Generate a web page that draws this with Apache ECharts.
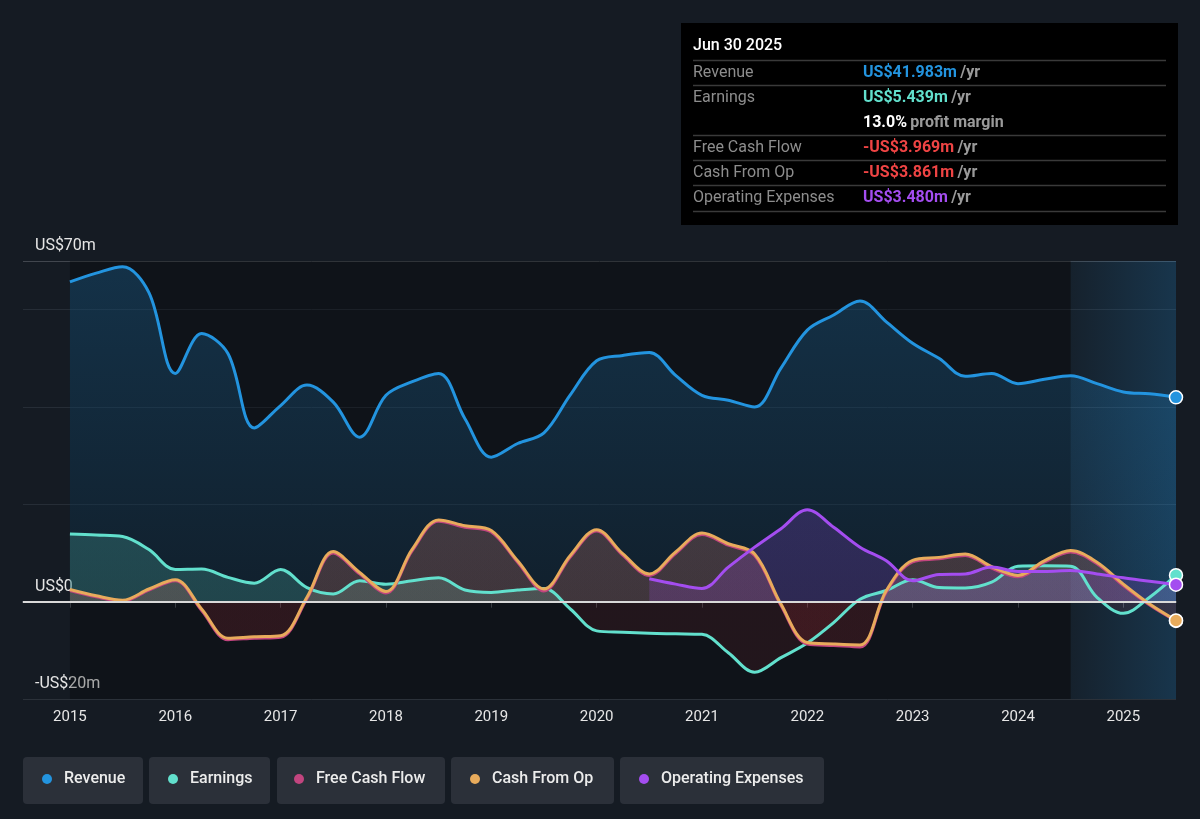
<!DOCTYPE html>
<html>
<head>
<meta charset="utf-8">
<title>Revenue, earnings and cash flow</title>
<script src="https://cdn.jsdelivr.net/npm/echarts@6/dist/echarts.min.js"></script>
<style>
  html, body { margin: 0; padding: 0; background: #151b23; }
  #main { width: 1200px; height: 819px; }
</style>
</head>
<body>
<div id="main"></div>
<script>
// quarter ends as decimal years
var periods = [
  2015, 2015.25, 2015.5, 2015.75, 2016, 2016.25, 2016.5, 2016.75,
  2017, 2017.25, 2017.5, 2017.75, 2018, 2018.25, 2018.5, 2018.75,
  2019, 2019.25, 2019.5, 2019.75, 2020, 2020.25, 2020.5, 2020.75,
  2021, 2021.25, 2021.5, 2021.75, 2022, 2022.25, 2022.5, 2022.75,
  2023, 2023.25, 2023.5, 2023.75, 2024, 2024.25, 2024.5, 2024.75,
  2025, 2025.25, 2025.5
];

// US$m, trailing twelve months
var revenue = [
  65.7, 67.5, 68.8, 63.5, 46.9, 55.1, 51.0, 35.7,
  40.3, 44.5, 41.0, 33.8, 42.4, 45.2, 46.9, 37.6,
  29.7, 32.5, 34.7, 42.5, 49.5, 50.6, 51.2, 46.5,
  42.4, 41.4, 40.0, 48.0, 55.8, 58.9, 61.8, 57.5,
  53.1, 50.0, 46.3, 46.9, 44.8, 45.7, 46.4, 44.8,
  43.1, 42.7, 41.983
];
var earnings = [
  13.9, 13.7, 13.4, 10.7, 6.6, 6.7, 5.0, 3.8,
  6.6, 2.9, 1.6, 4.3, 3.6, 4.3, 4.9, 2.4,
  1.9, 2.4, 2.7, -1.5, -6.0, -6.3, -6.5, -6.6,
  -6.7, -10.5, -14.5, -11.5, -8.5, -4.3, 0.5, 2.3,
  4.5, 2.9, 2.8, 4.0, 7.3, 7.4, 7.3, 0.9,
  -2.4, 0.9, 5.439
];
var freeCashFlow = [
  2.3, 1.0, 0.1, 2.4, 4.3, -1.8, -7.8, -7.5,
  -7.3, 0.6, 10.0, 5.7, 1.8, 10.5, 16.5, 15.3,
  14.3, 8.1, 2.2, 9.2, 14.5, 9.5, 5.4, 9.9,
  13.8, 11.6, 9.5, -0.8, -8.7, -9.0, -9.3, 2.0,
  8.2, 8.8, 9.5, 6.9, 5.1, 8.1, 10.2, 7.8,
  3.3, -0.7, -3.969
];
var cashFromOp = [
  2.5, 1.2, 0.3, 2.6, 4.5, -1.5, -7.5, -7.2,
  -7.0, 0.9, 10.3, 6.0, 2.1, 10.8, 16.8, 15.6,
  14.6, 8.4, 2.6, 9.5, 14.8, 9.8, 5.7, 10.2,
  14.1, 11.9, 9.8, -0.5, -8.4, -8.7, -8.9, 2.3,
  8.5, 9.1, 9.8, 7.2, 5.4, 8.4, 10.5, 8.1,
  3.6, -0.5, -3.861
];
var operatingExpenses = [
  null, null, null, null, null, null, null, null,
  null, null, null, null, null, null, null, null,
  null, null, null, null, null, null, 4.7, 3.6,
  2.7, 7.1, 11.2, 15.0, 18.9, 15.3, 11.2, 8.4,
  4.3, 5.6, 5.7, 7.1, 6.2, 6.2, 6.4, 5.7,
  4.9, 4.2, 3.48
];

var yearTicks = [2015, 2016, 2017, 2018, 2019, 2020, 2021, 2022, 2023, 2024, 2025];
var yTickLabels = { '-20': '-US$20m', '0': 'US$0', '70': 'US$70m' };

var seriesNames = ['Revenue', 'Earnings', 'Free Cash Flow', 'Cash From Op', 'Operating Expenses'];
var seriesColors = ['#2394df', '#62e0cd', '#c2457f', '#e8ab5c', '#a44df0'];

var tipDate = 'Jun 30 2025';
var tipRows = [
  { label: 'Revenue', value: 'US$41.983m', color: '#2394df', unit: '/yr' },
  { label: 'Earnings', value: 'US$5.439m', color: '#62e0cd', unit: '/yr' },
  { label: '', value: '13.0%', color: '#ffffff', unit: 'profit margin' },
  { label: 'Free Cash Flow', value: '-US$3.969m', color: '#ef4444', unit: '/yr' },
  { label: 'Cash From Op', value: '-US$3.861m', color: '#ef4444', unit: '/yr' },
  { label: 'Operating Expenses', value: 'US$3.480m', color: '#a44df0', unit: '/yr' }
];

var FONT = 'Roboto, "Noto Sans", sans-serif';
var chart = echarts.init(document.getElementById('main'));

function rgba(hex, a) {
  var n = parseInt(hex.slice(1), 16);
  return 'rgba(' + (n >> 16) + ',' + ((n >> 8) & 255) + ',' + (n & 255) + ',' + a + ')';
}

function toPairs(vals, color) {
  return vals.map(function (v, i) {
    if (i === vals.length - 1) {
      return {
        value: [periods[i], v],
        symbol: 'circle',
        symbolSize: 13,
        itemStyle: { color: color, borderColor: '#ffffff', borderWidth: 1.5 }
      };
    }
    return [periods[i], v];
  });
}

var dataSets = [revenue, earnings, freeCashFlow, cashFromOp, operatingExpenses];

var lineSeries = dataSets.map(function (vals, k) {
  return {
    name: seriesNames[k],
    type: 'line',
    smooth: 0.35,
    symbol: 'none',
    showSymbol: true,
    showAllSymbol: true,
    clip: false,
    lineStyle: { color: seriesColors[k], width: 3 },
    itemStyle: { color: seriesColors[k] },
    areaStyle: { color: rgba(seriesColors[k], 0.2) },
    data: toPairs(vals, seriesColors[k]),
    z: 2
  };
});

// background bands and zero line
var backSeries = {
  name: 'bands',
  type: 'line',
  data: [],
  z: 1,
  silent: true,
  markArea: {
    silent: true,
    data: [
      [{ xAxis: 2015, itemStyle: { color: 'rgba(0,0,0,0.27)' } }, { xAxis: 2024.5 }],
      [{
        xAxis: 2024.5,
        itemStyle: {
          color: new echarts.graphic.LinearGradient(0, 0, 1, 0, [
            { offset: 0, color: 'rgba(35,148,223,0.05)' },
            { offset: 1, color: 'rgba(35,148,223,0.22)' }
          ])
        }
      }, { xAxis: 2025.5 }]
    ]
  },
  markLine: {
    silent: true,
    symbol: ['none', 'none'],
    label: { show: false },
    lineStyle: { color: '#d9d9d9', width: 2, type: 'solid' },
    data: [{ yAxis: 0 }]
  }
};

var legends = [];
var legendLeft = [42, 168, 294, 470, 639];
var legendBoxes = [[23, 120], [149, 121], [277, 168], [451, 163], [620, 204]];
seriesNames.forEach(function (n, i) {
  legends.push({
    data: [n],
    left: legendLeft[i],
    top: 771,
    padding: 0,
    icon: 'circle',
    itemWidth: 10,
    itemHeight: 10,
    selectedMode: false,
    textStyle: { color: '#ececec', fontSize: 16, fontWeight: 500, fontFamily: FONT, padding: [0, 0, 0, 7] }
  });
});

var graphics = [];
legendBoxes.forEach(function (b) {
  graphics.push({
    type: 'rect', z: 0,
    shape: { x: b[0], y: 757, width: b[1], height: 47, r: 4 },
    style: { fill: '#2b3039' }
  });
});

// summary box in the top right
graphics.push({ type: 'rect', z: 50, shape: { x: 681, y: 23, width: 497, height: 202 }, style: { fill: '#000000' } });
graphics.push({
  type: 'text', z: 51, x: 693, y: 46,
  style: { text: tipDate, fill: '#ffffff', font: '500 16px ' + FONT, verticalAlign: 'middle' }
});
[60.5, 85.5, 135.5, 160.5, 185.5, 211.5].forEach(function (y) {
  graphics.push({
    type: 'line', z: 51,
    shape: { x1: 693, y1: y, x2: 1166, y2: y },
    style: { stroke: '#3a3a3a', lineWidth: 1.5 }
  });
});
tipRows.forEach(function (r, i) {
  var y = 73 + i * 25;
  if (r.label) {
    graphics.push({
      type: 'text', z: 51, x: 693, y: y,
      style: { text: r.label, fill: '#8d8d8d', font: '16px ' + FONT, verticalAlign: 'middle' }
    });
  }
  graphics.push({
    type: 'text', z: 51, x: 863, y: y,
    style: {
      text: '{v|' + r.value + '} {u|' + r.unit + '}',
      verticalAlign: 'middle',
      rich: {
        v: { fill: r.color, fontSize: 16, fontWeight: 'bold', fontFamily: FONT },
        u: { fill: '#9a9a9a', fontSize: 16, fontWeight: 'bold', fontFamily: FONT }
      }
    }
  });
});

var option = {
  backgroundColor: '#151b23',
  animation: false,
  textStyle: { fontFamily: FONT },
  grid: { left: 23, right: 24, top: 261, bottom: 120 },
  xAxis: {
    type: 'value',
    min: 2014.5545,
    max: 2025.5,
    axisLine: { lineStyle: { color: '#4d535b', width: 2 } },
    axisTick: { show: true, customValues: yearTicks, length: 6, lineStyle: { color: '#4d535b' } },
    axisLabel: {
      customValues: yearTicks,
      color: '#e6e6e6', fontSize: 15, margin: 11, fontFamily: FONT,
      formatter: function (v) { return String(v); }
    },
    splitLine: { show: false }
  },
  yAxis: {
    type: 'value',
    min: -20,
    max: 70,
    interval: 20,
    axisLine: { show: false },
    axisTick: { show: false },
    axisLabel: {
      inside: true,
      margin: 12,
      showMinLabel: true,
      showMaxLabel: true,
      color: '#e6e6e6',
      fontSize: 16,
      fontFamily: FONT,
      verticalAlign: 'bottom',
      padding: [0, 0, 7, 0],
      formatter: function (v) { return yTickLabels[String(v)] || ''; }
    },
    splitLine: {
      lineStyle: { color: ['#2b3139', '#2b3139', '#262d36', '#262d36', '#262d36', '#41464e'], width: 1 }
    }
  },
  legend: legends,
  graphic: graphics,
  series: [backSeries].concat(lineSeries)
};

chart.setOption(option);

// area fills: series colour above zero, red tint below, split at the zero pixel
var yTop = chart.convertToPixel({ yAxisIndex: 0 }, 70);
var yZero = chart.convertToPixel({ yAxisIndex: 0 }, 0);
var yBot = chart.convertToPixel({ yAxisIndex: 0 }, -20);
var f = (yZero - yTop) / (yBot - yTop);

function splitFill(color, aTop, aZero, aNeg) {
  return new echarts.graphic.LinearGradient(0, yTop, 0, yBot, [
    { offset: 0, color: rgba(color, aTop) },
    { offset: f, color: rgba(color, aZero) },
    { offset: f, color: 'rgba(225,50,60,' + aNeg + ')' },
    { offset: 1, color: 'rgba(225,50,60,' + aNeg + ')' }
  ], true);
}

var fills = [
  splitFill(seriesColors[0], 0.34, 0.14, 0),
  splitFill(seriesColors[1], 0.32, 0.28, 0.13),
  splitFill(seriesColors[2], 0.2, 0.18, 0.11),
  splitFill(seriesColors[3], 0.2, 0.18, 0.1),
  splitFill(seriesColors[4], 0.32, 0.28, 0.1)
];

chart.setOption({
  series: [{}].concat(fills.map(function (c) { return { areaStyle: { color: c } }; }))
});
</script>
</body>
</html>
